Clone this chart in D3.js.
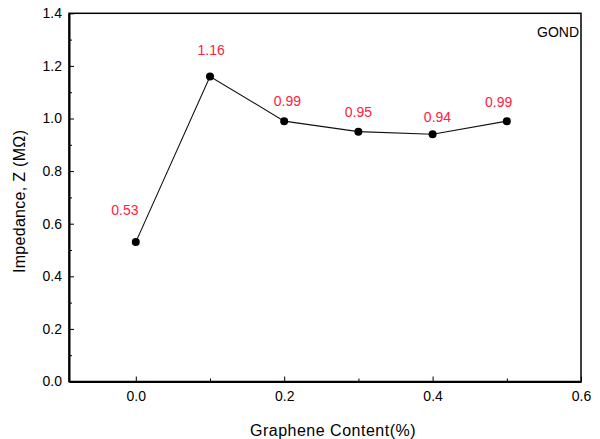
<!DOCTYPE html>
<html>
<head>
<meta charset="utf-8">
<script src="https://cdn.jsdelivr.net/npm/d3@7"></script>
<style>
  body { margin: 0; background: #fff; }
  svg { display: block; font-family: "Liberation Sans", Arial, sans-serif; }
</style>
</head>
<body>
<svg id="chart" width="600" height="439"></svg>
<script>
// Data
const grapheneContent = [0.0, 0.1, 0.2, 0.3, 0.4, 0.5];
const impedance = [0.53, 1.16, 0.99, 0.95, 0.94, 0.99];
const valueLabels = ["0.53", "1.16", "0.99", "0.95", "0.94", "0.99"];
// label anchors in data units
const labelX = [-0.0146, 0.1016, 0.2044, 0.300, 0.4066, 0.489];
const labelY = [0.633, 1.243, 1.049, 1.005, 0.988, 1.045];
const xTickValues = [0.0, 0.2, 0.4, 0.6];
const xMinorTicks = [0.1, 0.3, 0.5];
const yTickValues = [0.0, 0.2, 0.4, 0.6, 0.8, 1.0, 1.2, 1.4];
const yMinorTicks = [0.1, 0.3, 0.5, 0.7, 0.9, 1.1, 1.3];
const seriesName = "GOND";

const svg = d3.select("#chart");
const L = 69, R = 581, T = 13.3, B = 381.5;

const x = d3.scaleLinear().domain([-0.09, 0.6]).range([L, R]);
const y = d3.scaleLinear().domain([0, 1.4]).range([B, T]);

// frame
svg.append("rect").attr("x", L).attr("y", T).attr("width", R - L).attr("height", B - T)
  .attr("fill", "none").attr("stroke", "#000").attr("stroke-width", 1.5);

// x axis
const xAxis = svg.append("g").attr("transform", `translate(0,${B})`)
  .call(d3.axisBottom(x).tickValues(xTickValues).tickFormat(d3.format(".1f")).tickSizeInner(-5).tickSizeOuter(0).tickPadding(10));
xAxis.select(".domain").attr("stroke-width", 2);
xAxis.selectAll(".tick line").attr("stroke-width", 1);
xAxis.selectAll(".tick text").attr("font-size", 14).attr("fill", "#000")
  .attr("font-family", "Liberation Sans, Arial, sans-serif").attr("dy", "0.71em");
svg.append("g").attr("transform", `translate(0,${B})`)
  .call(d3.axisBottom(x).tickValues(xMinorTicks).tickFormat("").tickSizeInner(-3).tickSizeOuter(0))
  .call(g => g.select(".domain").remove());

// y axis
const yAxis = svg.append("g").attr("transform", `translate(${L},0)`)
  .call(d3.axisLeft(y).tickValues(yTickValues).tickFormat(d3.format(".1f")).tickSizeInner(-5).tickSizeOuter(0).tickPadding(7));
yAxis.select(".domain").attr("stroke-width", 2);
yAxis.selectAll(".tick text").attr("font-size", 14).attr("fill", "#000")
  .attr("font-family", "Liberation Sans, Arial, sans-serif");
svg.append("g").attr("transform", `translate(${L},0)`)
  .call(d3.axisLeft(y).tickValues(yMinorTicks).tickFormat("").tickSizeInner(-3).tickSizeOuter(0))
  .call(g => g.select(".domain").remove());

// axis titles
svg.append("text").attr("x", (L + R) / 2 + 8).attr("y", 436).attr("text-anchor", "middle")
  .attr("font-size", 16).attr("letter-spacing", 0.5).attr("fill", "#000").text("Graphene Content(%)");
svg.append("text").attr("transform", `translate(25,${(T + B) / 2 + 4}) rotate(-90)`)
  .attr("text-anchor", "middle").attr("font-size", 16).attr("letter-spacing", 0.3).attr("fill", "#000")
  .text("Impedance, Z (MΩ)");

// line
const pts = grapheneContent.map((d, i) => [d, impedance[i]]);
svg.append("path").datum(pts)
  .attr("d", d3.line().x(d => x(d[0])).y(d => y(d[1])))
  .attr("fill", "none").attr("stroke", "#111").attr("stroke-width", 1.1);

// markers
svg.selectAll("circle.pt").data(pts).enter().append("circle")
  .attr("cx", d => x(d[0])).attr("cy", d => y(d[1])).attr("r", 4).attr("fill", "#000");

// value labels
svg.selectAll("text.val").data(valueLabels).enter().append("text")
  .attr("x", (d, i) => x(labelX[i])).attr("y", (d, i) => y(labelY[i]))
  .attr("text-anchor", "middle").attr("font-size", 14).attr("fill", "#ff2040").text(d => d);

// legend text
svg.append("text").attr("x", 579).attr("y", 37).attr("text-anchor", "end")
  .attr("font-size", 14).attr("fill", "#000").text(seriesName);
</script>
</body>
</html>
